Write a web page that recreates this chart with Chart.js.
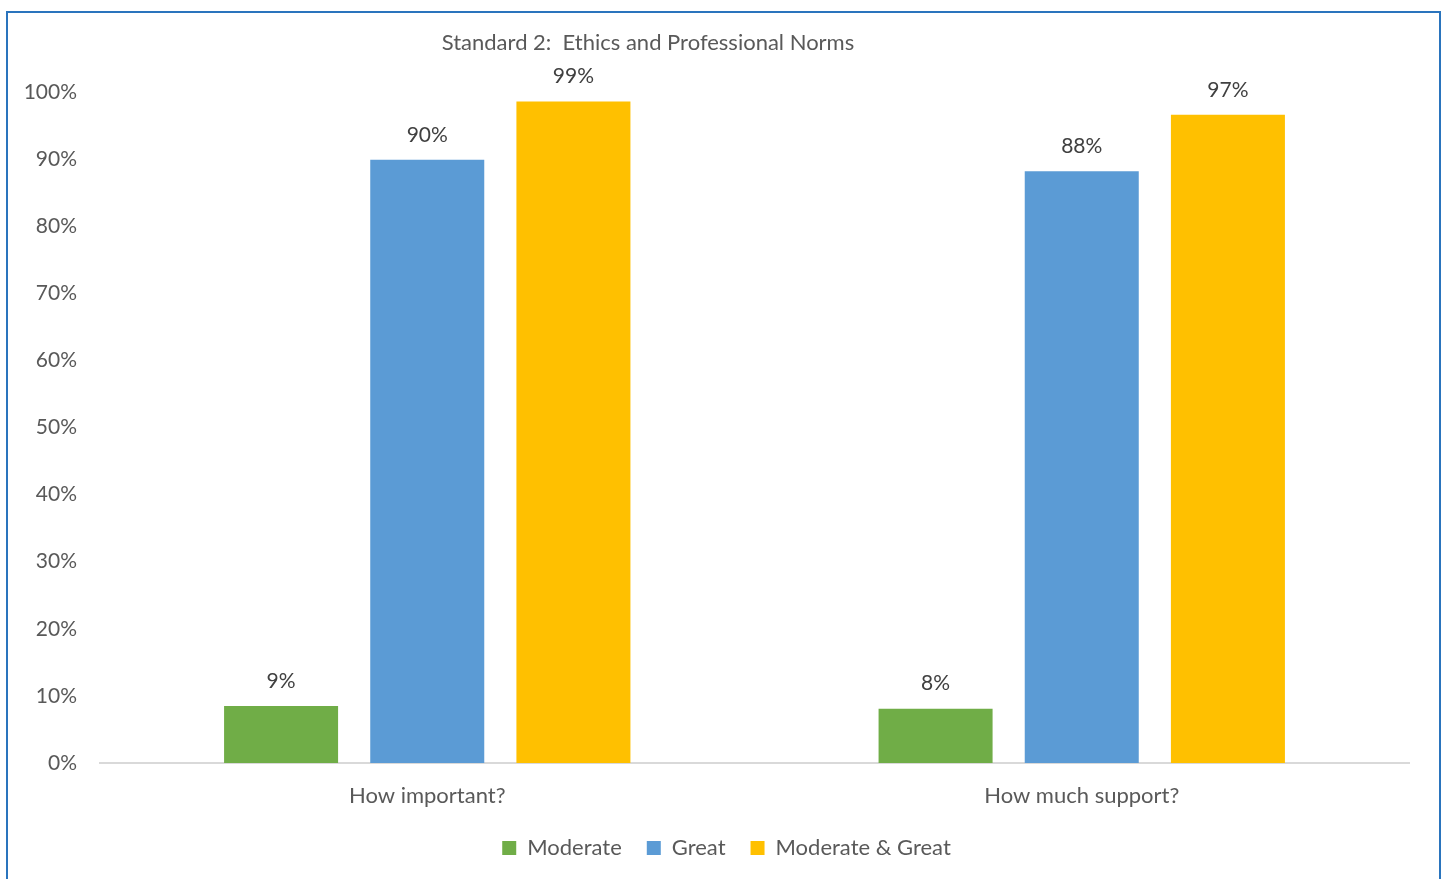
<!DOCTYPE html>
<html>
<head>
<meta charset="utf-8">
<script src="https://cdn.jsdelivr.net/npm/chart.js@4/dist/chart.umd.min.js"></script>
<style>
body{margin:0;background:#fff;overflow:hidden;}
#frame{position:absolute;left:6px;top:11px;width:1431px;height:900px;border:2px solid #2a74bd;border-bottom:none;}
#wrap{position:absolute;left:0;top:0;width:1445px;height:879px;}
</style>
</head>
<body>
<div id="frame"></div>
<div id="wrap"><canvas id="standardChart"></canvas></div>
<script>

// Chart data

const categories = ["How important?", "How much support?"];

const moderate = [8.5, 8.1];

const great = [89.9, 88.2];

const moderateGreat = [98.6, 96.6];

const seriesNames = ["Moderate", "Great", "Moderate & Great"];

const chartTitle = "Standard 2:  Ethics and Professional Norms";

const FONT = "Lato, 'Open Sans', sans-serif";

// value labels above the bars + title (placed like the original)

const barLabels = {

id:"barLabels",

afterLayout(chart){

// legend sits a bit right of centre in the original
if(chart.legend){
chart.legend.left += 22;
chart.legend.right += 22;
}

},

afterDatasetsDraw(chart){

const ctx = chart.ctx;

ctx.save();

ctx.fillStyle = "#595959";
ctx.textAlign = "center";
ctx.textBaseline = "middle";
ctx.font = "22px " + FONT;
ctx.fillText(chartTitle, 648, 43);

ctx.font = "21px " + FONT;
ctx.fillStyle = "#404040";

chart.data.datasets.forEach((ds,i)=>{

chart.getDatasetMeta(i).data.forEach((bar,j)=>{

ctx.fillText(Math.round(ds.data[j]) + "%", bar.x, bar.y - 25);

});

});

ctx.restore();

}

};

const standardChart =
document.getElementById("standardChart");

if(standardChart){

new Chart(standardChart,{

type:"bar",

data:{

labels:categories,

datasets:[
{label:seriesNames[0], data:moderate, backgroundColor:"#70ad47"},
{label:seriesNames[1], data:great, backgroundColor:"#5b9bd5"},
{label:seriesNames[2], data:moderateGreat, backgroundColor:"#ffc000"}
]

},

options:{

responsive:true,
maintainAspectRatio:false,
animation:false,

layout:{
padding:{left:0, right:36, top:92, bottom:10}
},

categoryPercentage:0.67,
barPercentage:0.78,

plugins:{

title:{display:false},

legend:{
position:"bottom",
labels:{
color:"#595959",
font:{family:FONT, size:22},
boxWidth:14,
boxHeight:14,
padding:25
}
},

tooltip:{enabled:false}

},

scales:{

x:{
grid:{display:false, drawTicks:false},
border:{display:true, color:"#d9d9d9", width:2},
ticks:{color:"#595959", font:{family:FONT, size:22}, padding:20},
afterFit(scale){ scale.height = 49; }
},

y:{
min:0,
max:100,
grid:{display:false, drawTicks:false},
border:{display:false},
ticks:{
stepSize:10,
color:"#595959",
font:{family:FONT, size:21},
padding:23,
callback:(v)=>v + "%"
},
afterFit(scale){ scale.width = 100; }
}

}

},

plugins:[barLabels]

});

}

</script>
</body>
</html>
